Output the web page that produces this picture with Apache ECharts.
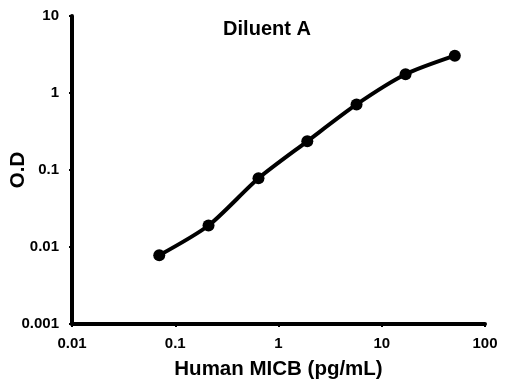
<!DOCTYPE html>
<html>
<head>
<meta charset="utf-8">
<script src="https://cdn.jsdelivr.net/npm/echarts@6/dist/echarts.min.js"></script>
<style>html,body{margin:0;padding:0;background:#fff}#c{width:532px;height:384px}</style>
</head>
<body>
<div id="c"></div>
<script>
var concentrations = [0.07, 0.21, 0.64, 1.9, 5.7, 17, 51];
var odValues = [0.0078, 0.019, 0.078, 0.236, 0.71, 1.75, 3.05];
var xTickLabels = ['0.01', '0.1', '1', '10', '100'];
var yTickLabels = ['0.001', '0.01', '0.1', '1', '10'];
var titleText = 'Diluent A';
var xName = 'Human MICB (pg/mL)';
var yName = 'O.D';

function labelFor(list, v) {
  for (var i = 0; i < list.length; i++) {
    if (Math.abs(Math.log10(parseFloat(list[i])) - Math.log10(v)) < 1e-6) return list[i];
  }
  return '';
}

var font = 'Liberation Sans, Arial, sans-serif';
var chart = echarts.init(document.getElementById('c'));
chart.setOption({
  animation: false,
  backgroundColor: '#fff',
  title: {
    text: titleText, left: 262, top: 14, textAlign: 'center',
    textStyle: { fontFamily: font, fontWeight: 'bold', fontSize: 20, color: '#000' }
  },
  grid: { left: 72, right: 47, top: 16, bottom: 60, containLabel: false, outerBoundsMode: 'none' },
  xAxis: {
    type: 'log', logBase: 10, min: 0.01, max: 100,
    name: xName, nameLocation: 'middle', nameGap: 35, nameMoveOverlap: false,
    nameTextStyle: { fontFamily: font, fontWeight: 'bold', fontSize: 20.5, color: '#000' },
    axisLine: { lineStyle: { color: '#000', width: 4 } },
    axisTick: { show: true, inside: false, length: 3, lineStyle: { color: '#000', width: 2 } },
    minorTick: { show: true, splitNumber: 9, length: 2, lineStyle: { color: '#000', width: 1 } },
    splitLine: { show: false },
    axisLabel: {
      fontFamily: font, fontWeight: 'bold', fontSize: 15, color: '#000', margin: 12,
      formatter: function (v) { return labelFor(xTickLabels, v); }
    }
  },
  yAxis: {
    type: 'log', logBase: 10, min: 0.001, max: 10,
    name: yName, nameLocation: 'middle', nameGap: 43, nameRotate: 90, nameMoveOverlap: false,
    nameTextStyle: { fontFamily: font, fontWeight: 'bold', fontSize: 20.5, color: '#000' },
    axisLine: { lineStyle: { color: '#000', width: 4 } },
    axisTick: { show: true, inside: false, length: 3, lineStyle: { color: '#000', width: 2 } },
    minorTick: { show: true, splitNumber: 9, length: 2, lineStyle: { color: '#000', width: 1 } },
    splitLine: { show: false },
    axisLabel: {
      fontFamily: font, fontWeight: 'bold', fontSize: 15, color: '#000', margin: 13,
      formatter: function (v) { return labelFor(yTickLabels, v); }
    }
  },
  series: [{
    type: 'line',
    data: concentrations.map(function (c, i) { return [c, odValues[i]]; }),
    smooth: 0.25,
    symbol: 'circle', symbolSize: 12,
    lineStyle: { color: '#000', width: 4 },
    itemStyle: { color: '#000' }
  }]
});
</script>
</body>
</html>
